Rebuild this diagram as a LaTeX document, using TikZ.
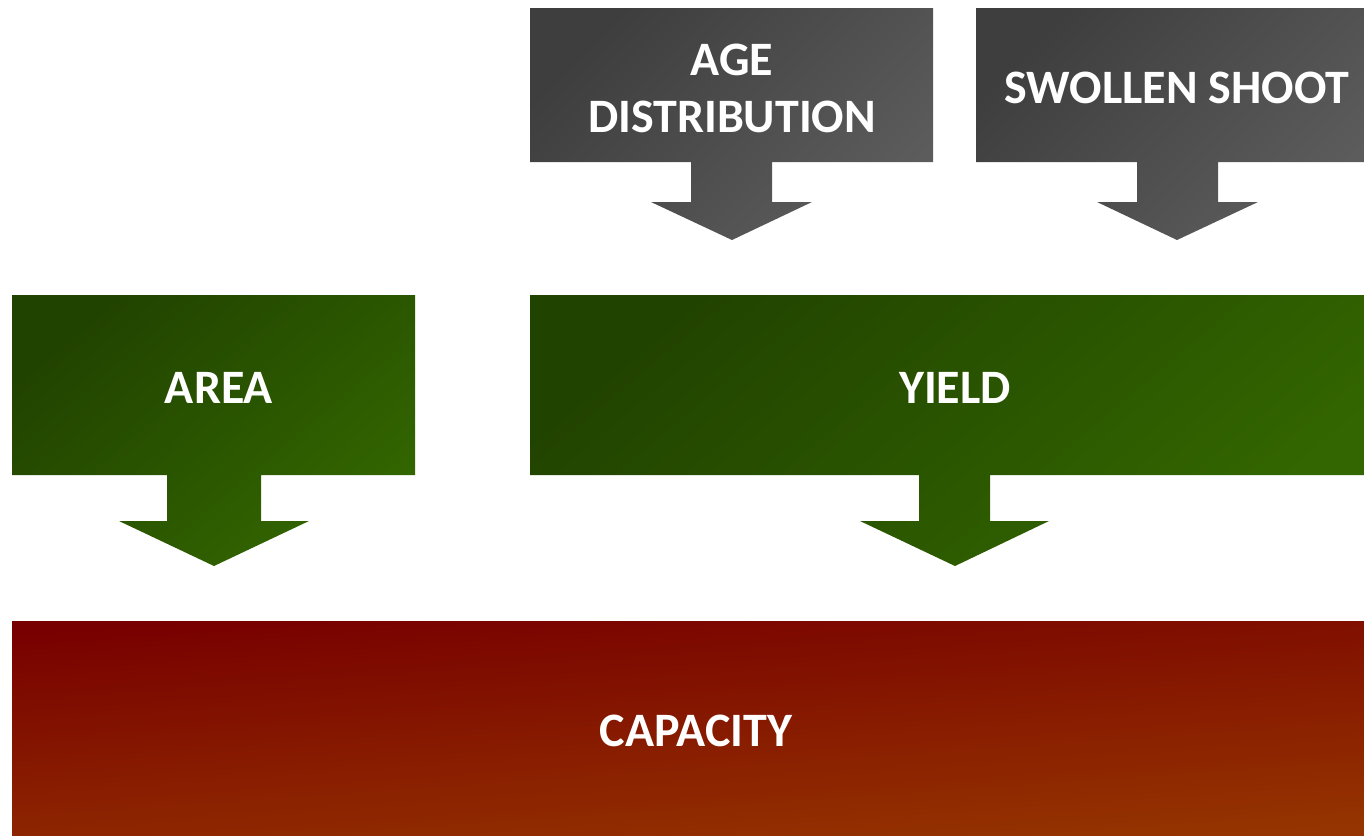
\documentclass[tikz,border=0pt]{standalone}
\usepackage{fontspec}
\setmainfont{Carlito}
\definecolor{grayA}{HTML}{3E3E3E}
\definecolor{grayB}{HTML}{5C5C5C}
\definecolor{greenA}{HTML}{214300}
\definecolor{greenB}{HTML}{336600}
\definecolor{redA}{HTML}{780000}
\definecolor{redB}{HTML}{953400}
\begin{document}
\begin{tikzpicture}[x=1pt,y=-1pt,
  grayshape/.style={top color=grayA,bottom color=grayB,shading angle=45,draw=none},
  greenshape/.style={top color=greenA,bottom color=greenB,shading angle=40,draw=none},
  redshape/.style={top color=redA,bottom color=redB,shading angle=4,draw=none},
  lbl/.style={text=white,font=\fontsize{48}{57}\selectfont\bfseries,align=center,inner sep=0pt}]
\useasboundingbox (0,0) rectangle (1364,835);
% AGE DISTRIBUTION
\shade[grayshape] (530,8) -- (933,8) -- (933,162) -- (772,162) -- (772,202) -- (812,202) -- (732,240) -- (651,202) -- (691,202) -- (691,162) -- (530,162) -- cycle;
% SWOLLEN SHOOT
\shade[grayshape] (976,8) -- (1364,8) -- (1364,162) -- (1218,162) -- (1218,202) -- (1258,202) -- (1177,240) -- (1097,202) -- (1137,202) -- (1137,162) -- (976,162) -- cycle;
% AREA
\shade[greenshape] (12,295) -- (415,295) -- (415,475) -- (261,475) -- (261,521) -- (309,521) -- (214,566) -- (119,521) -- (167,521) -- (167,475) -- (12,475) -- cycle;
% YIELD
\shade[greenshape] (530,295) -- (1364,295) -- (1364,475) -- (990,475) -- (990,521) -- (1049,521) -- (955,566) -- (860,521) -- (919,521) -- (919,475) -- (530,475) -- cycle;
% CAPACITY
\shade[redshape] (12,621) rectangle (1364,835);
% labels
\node[lbl] (age) at (732,88) {AGE\\DISTRIBUTION};
\node[lbl] (swollen) at (1177,88) {SWOLLEN SHOOT};
\node[lbl] (area) at (219,388) {AREA};
\node[lbl] (yield) at (955,388) {YIELD};
\node[lbl] (capacity) at (696,731) {CAPACITY};
\end{tikzpicture}
\end{document}
